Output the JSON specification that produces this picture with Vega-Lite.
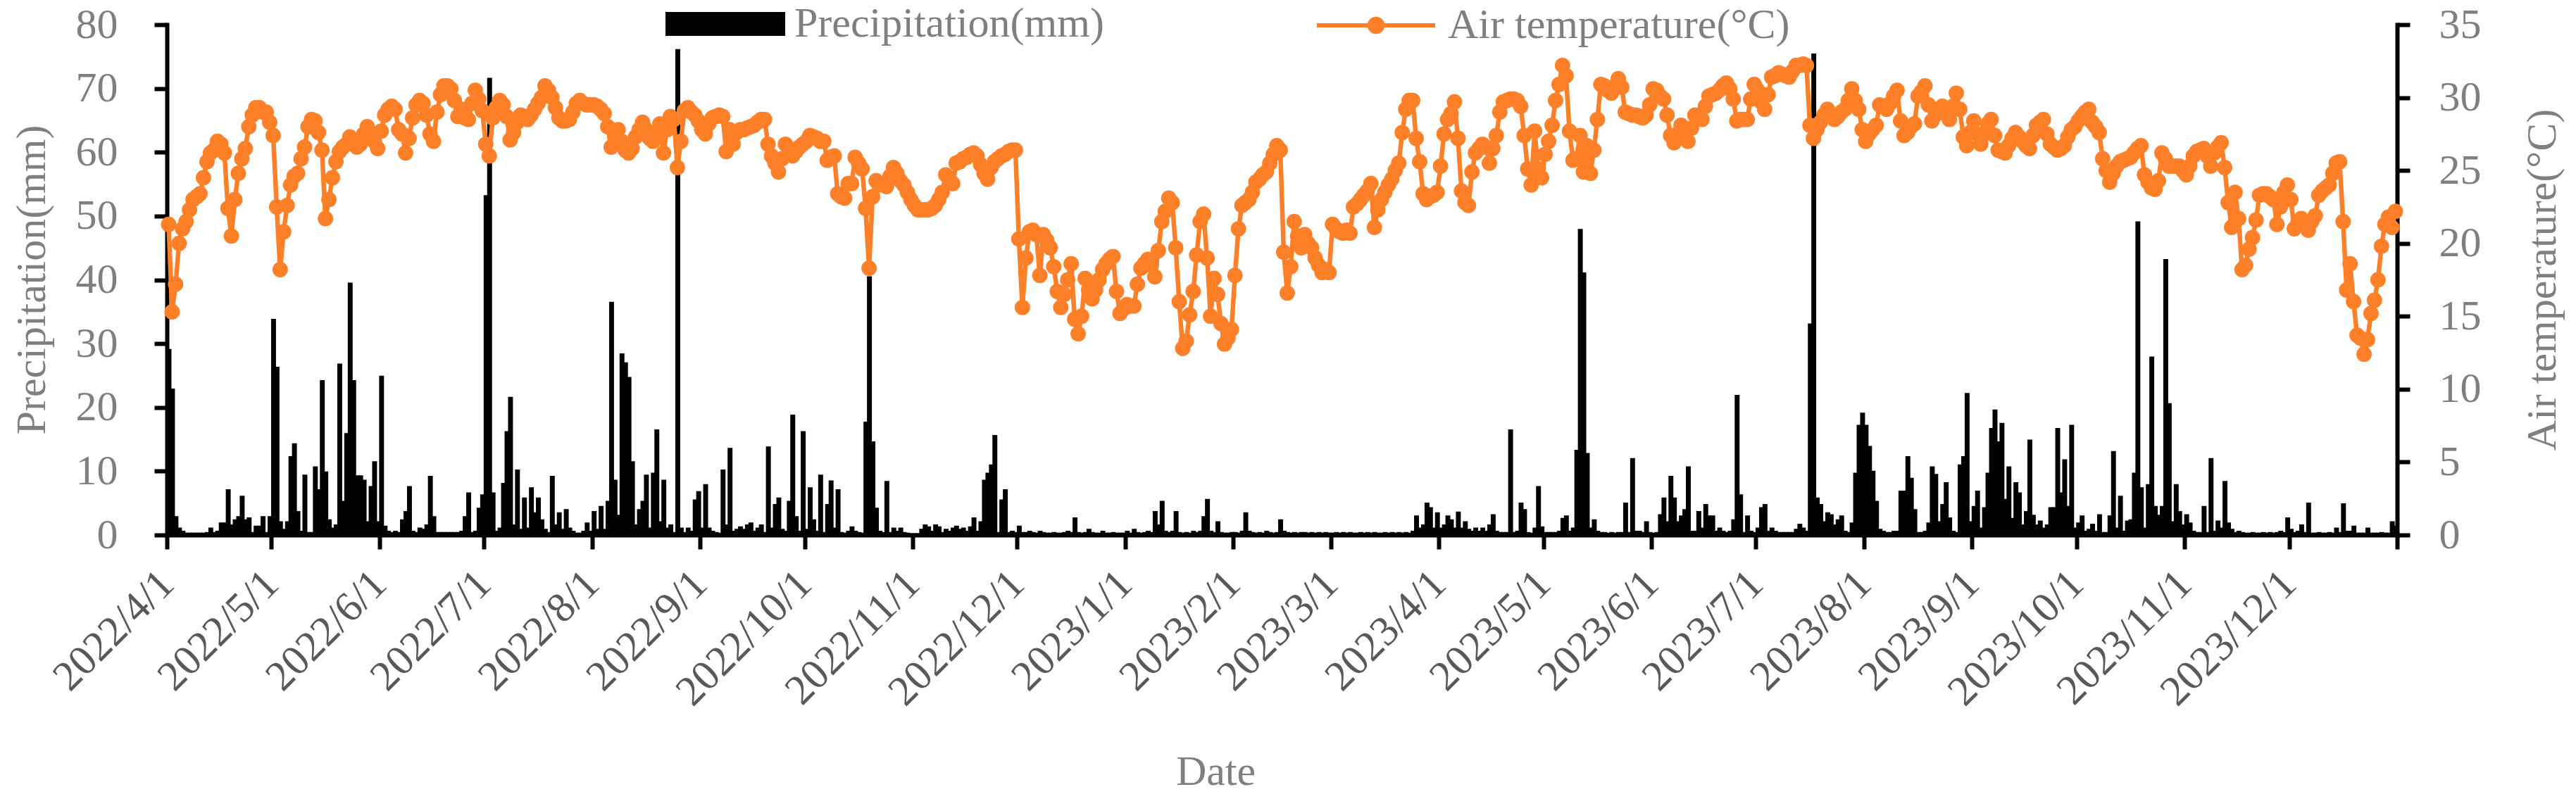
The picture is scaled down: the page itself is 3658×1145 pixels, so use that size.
{
  "$schema": "https://vega.github.io/schema/vega-lite/v6.json",
  "width": 3167,
  "height": 725,
  "autosize": "none",
  "padding": {"left": 237, "top": 35, "right": 254, "bottom": 385},
  "background": "white",
  "config": {
    "font": "Liberation Serif",
    "view": {"stroke": null},
    "axis": {"grid": false, "domainColor": "black", "tickColor": "black", "domainWidth": 6, "tickWidth": 6, "domainCap": "square", "labelFont": "Liberation Serif", "titleFont": "Liberation Serif", "labelFontSize": 60, "titleFontSize": 60, "titleFontWeight": "normal", "titleColor": "#7f7f7f", "labelColor": "#7f7f7f", "labelLimit": 0}
  },
  "data": {
    "format": {"parse": {"date": "date:'%Y-%m-%d'"}},
    "values": [
{"date":"2022-04-01","precip":29,"temp":21.3},{"date":"2022-04-02","precip":22.8,"temp":15.3},{"date":"2022-04-03","precip":2.8,"temp":17.2},{"date":"2022-04-04","precip":1.0,"temp":20.0},{"date":"2022-04-05","precip":0.5,"temp":21.0},{"date":"2022-04-06","precip":0.2,"temp":21.5},{"date":"2022-04-07","precip":0.2,"temp":22.3},{"date":"2022-04-08","precip":0.2,"temp":23.0},{"date":"2022-04-09","precip":0.2,"temp":23.2},{"date":"2022-04-10","precip":0.2,"temp":23.4},
{"date":"2022-04-11","precip":0.2,"temp":24.5},{"date":"2022-04-12","precip":0.3,"temp":25.6},{"date":"2022-04-13","precip":1.0,"temp":26.2},{"date":"2022-04-14","precip":0.3,"temp":26.4},{"date":"2022-04-15","precip":0.5,"temp":27.0},{"date":"2022-04-16","precip":1.8,"temp":26.8},{"date":"2022-04-17","precip":1.8,"temp":26.2},{"date":"2022-04-18","precip":7.0,"temp":22.4},{"date":"2022-04-19","precip":1.5,"temp":20.5},{"date":"2022-04-20","precip":2.3,"temp":23.0},
{"date":"2022-04-21","precip":2.8,"temp":24.8},{"date":"2022-04-22","precip":6.0,"temp":25.8},{"date":"2022-04-23","precip":2.3,"temp":26.5},{"date":"2022-04-24","precip":2.6,"temp":28.0},{"date":"2022-04-25","precip":0.3,"temp":28.8},{"date":"2022-04-26","precip":1.3,"temp":29.3},{"date":"2022-04-27","precip":1.3,"temp":29.3},{"date":"2022-04-28","precip":2.8,"temp":29.0},{"date":"2022-04-29","precip":0.3,"temp":29.0},{"date":"2022-04-30","precip":2.8,"temp":28.3},
{"date":"2022-05-01","precip":33.7,"temp":27.4},{"date":"2022-05-02","precip":26.2,"temp":22.5},{"date":"2022-05-03","precip":2.0,"temp":18.2},{"date":"2022-05-04","precip":0.8,"temp":20.8},{"date":"2022-05-05","precip":2.0,"temp":22.6},{"date":"2022-05-06","precip":12.2,"temp":24.0},{"date":"2022-05-07","precip":14.2,"temp":24.6},{"date":"2022-05-08","precip":3.6,"temp":24.8},{"date":"2022-05-09","precip":0.5,"temp":25.8},{"date":"2022-05-10","precip":9.3,"temp":26.6},
{"date":"2022-05-11","precip":0.3,"temp":28.0},{"date":"2022-05-12","precip":0.3,"temp":28.5},{"date":"2022-05-13","precip":10.6,"temp":28.4},{"date":"2022-05-14","precip":7.0,"temp":27.6},{"date":"2022-05-15","precip":24.1,"temp":26.4},{"date":"2022-05-16","precip":9.8,"temp":21.7},{"date":"2022-05-17","precip":2.3,"temp":23.0},{"date":"2022-05-18","precip":1.0,"temp":24.5},{"date":"2022-05-19","precip":1.5,"temp":25.6},{"date":"2022-05-20","precip":26.7,"temp":26.3},
{"date":"2022-05-21","precip":5.2,"temp":26.6},{"date":"2022-05-22","precip":15.8,"temp":26.8},{"date":"2022-05-23","precip":39.4,"temp":27.3},{"date":"2022-05-24","precip":24.1,"temp":27.0},{"date":"2022-05-25","precip":9.2,"temp":26.6},{"date":"2022-05-26","precip":9.2,"temp":26.8},{"date":"2022-05-27","precip":8.5,"temp":27.5},{"date":"2022-05-28","precip":2.0,"temp":28.0},{"date":"2022-05-29","precip":7.5,"temp":27.4},{"date":"2022-05-30","precip":11.4,"temp":27.0},
{"date":"2022-05-31","precip":2.0,"temp":26.5},
{"date":"2022-06-01","precip":24.8,"temp":27.7},{"date":"2022-06-02","precip":1.3,"temp":28.8},{"date":"2022-06-03","precip":0.5,"temp":29.2},{"date":"2022-06-04","precip":0.3,"temp":29.4},{"date":"2022-06-05","precip":0.5,"temp":29.2},{"date":"2022-06-06","precip":0.3,"temp":27.8},{"date":"2022-06-07","precip":2.3,"temp":27.5},{"date":"2022-06-08","precip":3.6,"temp":26.2},{"date":"2022-06-09","precip":7.5,"temp":27.2},{"date":"2022-06-10","precip":0.5,"temp":28.6},
{"date":"2022-06-11","precip":0.3,"temp":29.5},{"date":"2022-06-12","precip":1.0,"temp":29.8},{"date":"2022-06-13","precip":0.8,"temp":29.6},{"date":"2022-06-14","precip":1.5,"temp":28.8},{"date":"2022-06-15","precip":9.1,"temp":27.5},{"date":"2022-06-16","precip":2.8,"temp":27.0},{"date":"2022-06-17","precip":0.3,"temp":29.0},{"date":"2022-06-18","precip":0.3,"temp":30.2},{"date":"2022-06-19","precip":0.3,"temp":30.8},{"date":"2022-06-20","precip":0.3,"temp":30.8},
{"date":"2022-06-21","precip":0.3,"temp":30.6},{"date":"2022-06-22","precip":0.3,"temp":29.8},{"date":"2022-06-23","precip":0.3,"temp":28.7},{"date":"2022-06-24","precip":0.5,"temp":29.2},{"date":"2022-06-25","precip":2.8,"temp":28.6},{"date":"2022-06-26","precip":6.5,"temp":28.5},{"date":"2022-06-27","precip":0.3,"temp":29.6},{"date":"2022-06-28","precip":0.5,"temp":30.5},{"date":"2022-06-29","precip":4.1,"temp":29.9},{"date":"2022-06-30","precip":6.2,"temp":29.1},
{"date":"2022-07-01","precip":53.1,"temp":26.8},{"date":"2022-07-02","precip":71.5,"temp":26.0},{"date":"2022-07-03","precip":6.5,"temp":28.6},{"date":"2022-07-04","precip":0.5,"temp":29.3},{"date":"2022-07-05","precip":1.0,"temp":29.8},{"date":"2022-07-06","precip":8.0,"temp":29.5},{"date":"2022-07-07","precip":16.1,"temp":28.7},{"date":"2022-07-08","precip":21.5,"temp":27.1},{"date":"2022-07-09","precip":1.5,"temp":27.6},{"date":"2022-07-10","precip":10.1,"temp":28.3},
{"date":"2022-07-11","precip":0.8,"temp":28.8},{"date":"2022-07-12","precip":5.7,"temp":28.7},{"date":"2022-07-13","precip":1.0,"temp":28.5},{"date":"2022-07-14","precip":7.3,"temp":28.8},{"date":"2022-07-15","precip":3.4,"temp":29.2},{"date":"2022-07-16","precip":5.7,"temp":29.6},{"date":"2022-07-17","precip":2.3,"temp":30.0},{"date":"2022-07-18","precip":0.8,"temp":30.8},{"date":"2022-07-19","precip":0.3,"temp":30.5},{"date":"2022-07-20","precip":9.1,"temp":30.0},
{"date":"2022-07-21","precip":1.5,"temp":29.3},{"date":"2022-07-22","precip":3.4,"temp":28.6},{"date":"2022-07-23","precip":0.8,"temp":28.4},{"date":"2022-07-24","precip":3.9,"temp":28.4},{"date":"2022-07-25","precip":1.0,"temp":28.5},{"date":"2022-07-26","precip":0.5,"temp":29.0},{"date":"2022-07-27","precip":0.2,"temp":29.6},{"date":"2022-07-28","precip":0.2,"temp":29.8},{"date":"2022-07-29","precip":0.5,"temp":29.6},{"date":"2022-07-30","precip":1.8,"temp":29.5},
{"date":"2022-07-31","precip":0.5,"temp":29.5},
{"date":"2022-08-01","precip":3.6,"temp":29.5},{"date":"2022-08-02","precip":0.8,"temp":29.4},{"date":"2022-08-03","precip":4.4,"temp":29.2},{"date":"2022-08-04","precip":0.8,"temp":28.9},{"date":"2022-08-05","precip":5.2,"temp":28.0},{"date":"2022-08-06","precip":36.4,"temp":26.6},{"date":"2022-08-07","precip":8.5,"temp":27.4},{"date":"2022-08-08","precip":3.0,"temp":27.8},{"date":"2022-08-09","precip":28.3,"temp":27.0},{"date":"2022-08-10","precip":26.9,"temp":26.4},
{"date":"2022-08-11","precip":24.6,"temp":26.2},{"date":"2022-08-12","precip":11.4,"temp":26.5},{"date":"2022-08-13","precip":1.5,"temp":27.3},{"date":"2022-08-14","precip":3.9,"temp":27.8},{"date":"2022-08-15","precip":5.2,"temp":28.3},{"date":"2022-08-16","precip":9.3,"temp":27.8},{"date":"2022-08-17","precip":1.0,"temp":27.2},{"date":"2022-08-18","precip":9.6,"temp":27.0},{"date":"2022-08-19","precip":16.4,"temp":27.5},{"date":"2022-08-20","precip":2.0,"temp":28.2},
{"date":"2022-08-21","precip":8.5,"temp":26.2},{"date":"2022-08-22","precip":1.0,"temp":27.8},{"date":"2022-08-23","precip":1.5,"temp":28.7},{"date":"2022-08-24","precip":0.3,"temp":28.5},{"date":"2022-08-25","precip":76.0,"temp":25.2},{"date":"2022-08-26","precip":1.0,"temp":27.0},{"date":"2022-08-27","precip":0.3,"temp":29.1},{"date":"2022-08-28","precip":1.0,"temp":29.3},{"date":"2022-08-29","precip":0.5,"temp":29.0},{"date":"2022-08-30","precip":5.4,"temp":28.8},
{"date":"2022-08-31","precip":6.7,"temp":28.4},
{"date":"2022-09-01","precip":1.0,"temp":27.8},{"date":"2022-09-02","precip":7.8,"temp":27.5},{"date":"2022-09-03","precip":1.0,"temp":28.2},{"date":"2022-09-04","precip":0.5,"temp":28.6},{"date":"2022-09-05","precip":0.3,"temp":28.7},{"date":"2022-09-06","precip":0.2,"temp":28.8},{"date":"2022-09-07","precip":10.1,"temp":28.7},{"date":"2022-09-08","precip":1.5,"temp":26.3},{"date":"2022-09-09","precip":13.5,"temp":27.8},{"date":"2022-09-10","precip":0.5,"temp":26.8},
{"date":"2022-09-11","precip":0.8,"temp":27.6},{"date":"2022-09-12","precip":1.2,"temp":27.8},{"date":"2022-09-13","precip":0.8,"temp":27.8},{"date":"2022-09-14","precip":1.5,"temp":27.9},{"date":"2022-09-15","precip":1.8,"temp":28.0},{"date":"2022-09-16","precip":0.5,"temp":28.1},{"date":"2022-09-17","precip":1.0,"temp":28.3},{"date":"2022-09-18","precip":1.5,"temp":28.5},{"date":"2022-09-19","precip":0.3,"temp":28.5},{"date":"2022-09-20","precip":13.7,"temp":26.8},
{"date":"2022-09-21","precip":1.0,"temp":26.0},{"date":"2022-09-22","precip":4.7,"temp":25.5},{"date":"2022-09-23","precip":5.7,"temp":24.9},{"date":"2022-09-24","precip":0.8,"temp":25.8},{"date":"2022-09-25","precip":0.5,"temp":26.8},{"date":"2022-09-26","precip":5.2,"temp":26.5},{"date":"2022-09-27","precip":18.7,"temp":26.0},{"date":"2022-09-28","precip":2.8,"temp":26.3},{"date":"2022-09-29","precip":0.5,"temp":26.6},{"date":"2022-09-30","precip":16.1,"temp":26.8},
{"date":"2022-10-01","precip":0.8,"temp":27.0},{"date":"2022-10-02","precip":7.3,"temp":27.4},{"date":"2022-10-03","precip":2.3,"temp":27.3},{"date":"2022-10-04","precip":0.5,"temp":27.2},{"date":"2022-10-05","precip":9.3,"temp":27.0},{"date":"2022-10-06","precip":0.3,"temp":27.0},{"date":"2022-10-07","precip":4.7,"temp":25.7},{"date":"2022-10-08","precip":8.4,"temp":25.9},{"date":"2022-10-09","precip":1.0,"temp":26.0},{"date":"2022-10-10","precip":7.0,"temp":23.4},
{"date":"2022-10-11","precip":0.3,"temp":23.2},{"date":"2022-10-12","precip":0.2,"temp":23.1},{"date":"2022-10-13","precip":0.5,"temp":24.1},{"date":"2022-10-14","precip":1.2,"temp":24.1},{"date":"2022-10-15","precip":0.5,"temp":25.9},{"date":"2022-10-16","precip":0.3,"temp":25.5},{"date":"2022-10-17","precip":0.2,"temp":25.1},{"date":"2022-10-18","precip":17.6,"temp":22.4},{"date":"2022-10-19","precip":40.4,"temp":18.3},{"date":"2022-10-20","precip":14.5,"temp":23.2},
{"date":"2022-10-21","precip":4.1,"temp":24.3},{"date":"2022-10-22","precip":0.5,"temp":24.0},{"date":"2022-10-23","precip":0.3,"temp":24.1},{"date":"2022-10-24","precip":8.3,"temp":23.9},{"date":"2022-10-25","precip":0.3,"temp":24.6},{"date":"2022-10-26","precip":1.0,"temp":25.2},{"date":"2022-10-27","precip":0.5,"temp":24.8},{"date":"2022-10-28","precip":1.0,"temp":24.3},{"date":"2022-10-29","precip":0.3,"temp":24.0},{"date":"2022-10-30","precip":0.2,"temp":23.5},
{"date":"2022-10-31","precip":0.1,"temp":23.0},
{"date":"2022-11-01","precip":0.1,"temp":22.6},{"date":"2022-11-02","precip":0.1,"temp":22.3},{"date":"2022-11-03","precip":0.8,"temp":22.3},{"date":"2022-11-04","precip":1.5,"temp":22.3},{"date":"2022-11-05","precip":1.2,"temp":22.3},{"date":"2022-11-06","precip":0.5,"temp":22.4},{"date":"2022-11-07","precip":1.5,"temp":22.6},{"date":"2022-11-08","precip":1.2,"temp":23.0},{"date":"2022-11-09","precip":0.3,"temp":23.5},{"date":"2022-11-10","precip":0.8,"temp":24.7},
{"date":"2022-11-11","precip":0.5,"temp":24.4},{"date":"2022-11-12","precip":1.0,"temp":24.1},{"date":"2022-11-13","precip":1.3,"temp":25.5},{"date":"2022-11-14","precip":0.8,"temp":25.6},{"date":"2022-11-15","precip":1.0,"temp":25.8},{"date":"2022-11-16","precip":0.5,"temp":25.9},{"date":"2022-11-17","precip":1.2,"temp":26.1},{"date":"2022-11-18","precip":2.6,"temp":26.2},{"date":"2022-11-19","precip":0.5,"temp":26.0},{"date":"2022-11-20","precip":2.0,"temp":25.4},
{"date":"2022-11-21","precip":8.5,"temp":24.8},{"date":"2022-11-22","precip":9.6,"temp":24.4},{"date":"2022-11-23","precip":10.9,"temp":25.2},{"date":"2022-11-24","precip":15.5,"temp":25.6},{"date":"2022-11-25","precip":0.3,"temp":25.8},{"date":"2022-11-26","precip":5.4,"temp":26.0},{"date":"2022-11-27","precip":7.0,"temp":26.1},{"date":"2022-11-28","precip":0.3,"temp":26.3},{"date":"2022-11-29","precip":0.5,"temp":26.4},{"date":"2022-11-30","precip":0.3,"temp":26.4},
{"date":"2022-12-01","precip":1.3,"temp":20.3},{"date":"2022-12-02","precip":0.3,"temp":15.6},{"date":"2022-12-03","precip":0.3,"temp":19.0},{"date":"2022-12-04","precip":0.5,"temp":20.8},{"date":"2022-12-05","precip":0.3,"temp":20.9},{"date":"2022-12-06","precip":0.2,"temp":20.6},{"date":"2022-12-07","precip":0.5,"temp":17.8},{"date":"2022-12-08","precip":0.3,"temp":20.6},{"date":"2022-12-09","precip":0.2,"temp":20.2},{"date":"2022-12-10","precip":0.2,"temp":19.7},
{"date":"2022-12-11","precip":0.3,"temp":18.4},{"date":"2022-12-12","precip":0.2,"temp":16.7},{"date":"2022-12-13","precip":0.2,"temp":15.6},{"date":"2022-12-14","precip":0.3,"temp":16.5},{"date":"2022-12-15","precip":0.5,"temp":17.5},{"date":"2022-12-16","precip":0.3,"temp":18.6},{"date":"2022-12-17","precip":2.6,"temp":14.8},{"date":"2022-12-18","precip":0.3,"temp":13.8},{"date":"2022-12-19","precip":0.2,"temp":15.0},{"date":"2022-12-20","precip":0.3,"temp":17.6},
{"date":"2022-12-21","precip":0.8,"temp":16.8},{"date":"2022-12-22","precip":0.3,"temp":16.2},{"date":"2022-12-23","precip":0.2,"temp":16.8},{"date":"2022-12-24","precip":0.2,"temp":17.5},{"date":"2022-12-25","precip":0.5,"temp":18.2},{"date":"2022-12-26","precip":0.2,"temp":18.6},{"date":"2022-12-27","precip":0.2,"temp":18.9},{"date":"2022-12-28","precip":0.3,"temp":19.1},{"date":"2022-12-29","precip":0.2,"temp":16.7},{"date":"2022-12-30","precip":0.2,"temp":15.2},
{"date":"2022-12-31","precip":0.2,"temp":15.5},
{"date":"2023-01-01","precip":0.5,"temp":15.8},{"date":"2023-01-02","precip":0.2,"temp":15.7},{"date":"2023-01-03","precip":0.8,"temp":15.7},{"date":"2023-01-04","precip":0.3,"temp":17.2},{"date":"2023-01-05","precip":0.2,"temp":18.3},{"date":"2023-01-06","precip":0.3,"temp":18.6},{"date":"2023-01-07","precip":0.5,"temp":18.9},{"date":"2023-01-08","precip":0.3,"temp":18.5},{"date":"2023-01-09","precip":3.6,"temp":17.7},{"date":"2023-01-10","precip":1.5,"temp":19.5},
{"date":"2023-01-11","precip":5.2,"temp":21.5},{"date":"2023-01-12","precip":0.5,"temp":22.2},{"date":"2023-01-13","precip":0.3,"temp":23.1},{"date":"2023-01-14","precip":0.5,"temp":22.8},{"date":"2023-01-15","precip":3.6,"temp":19.7},{"date":"2023-01-16","precip":0.3,"temp":16.0},{"date":"2023-01-17","precip":0.2,"temp":12.8},{"date":"2023-01-18","precip":0.3,"temp":13.3},{"date":"2023-01-19","precip":0.2,"temp":15.1},{"date":"2023-01-20","precip":0.5,"temp":16.7},
{"date":"2023-01-21","precip":0.3,"temp":19.2},{"date":"2023-01-22","precip":0.5,"temp":21.5},{"date":"2023-01-23","precip":2.8,"temp":22.0},{"date":"2023-01-24","precip":5.5,"temp":19.0},{"date":"2023-01-25","precip":0.5,"temp":15.0},{"date":"2023-01-26","precip":0.3,"temp":17.6},{"date":"2023-01-27","precip":2.0,"temp":16.5},{"date":"2023-01-28","precip":0.3,"temp":14.5},{"date":"2023-01-29","precip":0.2,"temp":13.1},{"date":"2023-01-30","precip":0.2,"temp":13.5},
{"date":"2023-01-31","precip":0.3,"temp":14.1},
{"date":"2023-02-01","precip":0.3,"temp":17.8},{"date":"2023-02-02","precip":0.2,"temp":21.0},{"date":"2023-02-03","precip":0.5,"temp":22.6},{"date":"2023-02-04","precip":3.4,"temp":22.8},{"date":"2023-02-05","precip":0.5,"temp":23.0},{"date":"2023-02-06","precip":0.3,"temp":23.5},{"date":"2023-02-07","precip":0.2,"temp":24.2},{"date":"2023-02-08","precip":0.3,"temp":24.4},{"date":"2023-02-09","precip":0.2,"temp":24.7},{"date":"2023-02-10","precip":0.5,"temp":24.9},
{"date":"2023-02-11","precip":0.3,"temp":25.5},{"date":"2023-02-12","precip":0.2,"temp":26.1},{"date":"2023-02-13","precip":0.3,"temp":26.7},{"date":"2023-02-14","precip":2.3,"temp":26.4},{"date":"2023-02-15","precip":0.5,"temp":19.4},{"date":"2023-02-16","precip":0.3,"temp":16.6},{"date":"2023-02-17","precip":0.2,"temp":18.4},{"date":"2023-02-18","precip":0.3,"temp":21.5},{"date":"2023-02-19","precip":0.2,"temp":20.5},{"date":"2023-02-20","precip":0.3,"temp":19.7},
{"date":"2023-02-21","precip":0.3,"temp":20.6},{"date":"2023-02-22","precip":0.2,"temp":20.0},{"date":"2023-02-23","precip":0.3,"temp":19.7},{"date":"2023-02-24","precip":0.2,"temp":19.0},{"date":"2023-02-25","precip":0.3,"temp":18.5},{"date":"2023-02-26","precip":0.2,"temp":18.0},{"date":"2023-02-27","precip":0.3,"temp":18.2},{"date":"2023-02-28","precip":0.2,"temp":18.0},
{"date":"2023-03-01","precip":0.2,"temp":21.3},{"date":"2023-03-02","precip":0.3,"temp":21.0},{"date":"2023-03-03","precip":0.2,"temp":20.8},{"date":"2023-03-04","precip":0.3,"temp":20.7},{"date":"2023-03-05","precip":0.2,"temp":20.9},{"date":"2023-03-06","precip":0.3,"temp":20.7},{"date":"2023-03-07","precip":0.2,"temp":22.5},{"date":"2023-03-08","precip":0.2,"temp":22.7},{"date":"2023-03-09","precip":0.3,"temp":23.0},{"date":"2023-03-10","precip":0.2,"temp":23.3},
{"date":"2023-03-11","precip":0.3,"temp":23.6},{"date":"2023-03-12","precip":0.2,"temp":24.1},{"date":"2023-03-13","precip":0.3,"temp":21.1},{"date":"2023-03-14","precip":0.2,"temp":22.3},{"date":"2023-03-15","precip":0.2,"temp":23.0},{"date":"2023-03-16","precip":0.3,"temp":23.5},{"date":"2023-03-17","precip":0.2,"temp":24.0},{"date":"2023-03-18","precip":0.3,"temp":24.4},{"date":"2023-03-19","precip":0.2,"temp":25.0},{"date":"2023-03-20","precip":0.3,"temp":25.5},
{"date":"2023-03-21","precip":0.2,"temp":27.6},{"date":"2023-03-22","precip":0.3,"temp":29.2},{"date":"2023-03-23","precip":0.2,"temp":29.8},{"date":"2023-03-24","precip":0.5,"temp":29.8},{"date":"2023-03-25","precip":2.9,"temp":27.2},{"date":"2023-03-26","precip":1.0,"temp":25.6},{"date":"2023-03-27","precip":1.5,"temp":23.4},{"date":"2023-03-28","precip":4.9,"temp":23.0},{"date":"2023-03-29","precip":4.2,"temp":23.2},{"date":"2023-03-30","precip":1.0,"temp":23.3},
{"date":"2023-03-31","precip":3.4,"temp":23.5},
{"date":"2023-04-01","precip":1.0,"temp":25.3},{"date":"2023-04-02","precip":1.5,"temp":27.5},{"date":"2023-04-03","precip":2.9,"temp":28.5},{"date":"2023-04-04","precip":2.3,"temp":28.9},{"date":"2023-04-05","precip":1.0,"temp":29.7},{"date":"2023-04-06","precip":3.5,"temp":27.2},{"date":"2023-04-07","precip":1.0,"temp":23.6},{"date":"2023-04-08","precip":2.0,"temp":22.8},{"date":"2023-04-09","precip":0.8,"temp":22.6},{"date":"2023-04-10","precip":0.5,"temp":24.9},
{"date":"2023-04-11","precip":1.0,"temp":26.2},{"date":"2023-04-12","precip":0.5,"temp":26.5},{"date":"2023-04-13","precip":1.0,"temp":26.8},{"date":"2023-04-14","precip":0.5,"temp":26.6},{"date":"2023-04-15","precip":1.5,"temp":25.5},{"date":"2023-04-16","precip":3.1,"temp":26.5},{"date":"2023-04-17","precip":0.5,"temp":27.4},{"date":"2023-04-18","precip":0.3,"temp":29.0},{"date":"2023-04-19","precip":0.3,"temp":29.7},{"date":"2023-04-20","precip":0.3,"temp":29.8},
{"date":"2023-04-21","precip":16.4,"temp":29.9},{"date":"2023-04-22","precip":0.3,"temp":29.9},{"date":"2023-04-23","precip":0.5,"temp":29.8},{"date":"2023-04-24","precip":4.9,"temp":29.4},{"date":"2023-04-25","precip":3.9,"temp":27.4},{"date":"2023-04-26","precip":0.3,"temp":25.1},{"date":"2023-04-27","precip":0.2,"temp":24.0},{"date":"2023-04-28","precip":1.0,"temp":27.7},{"date":"2023-04-29","precip":7.5,"temp":25.1},{"date":"2023-04-30","precip":1.2,"temp":24.5},
{"date":"2023-05-01","precip":0.3,"temp":26.1},{"date":"2023-05-02","precip":0.3,"temp":27.0},{"date":"2023-05-03","precip":0.3,"temp":28.1},{"date":"2023-05-04","precip":0.3,"temp":29.8},{"date":"2023-05-05","precip":0.5,"temp":30.9},{"date":"2023-05-06","precip":2.5,"temp":32.2},{"date":"2023-05-07","precip":2.9,"temp":31.5},{"date":"2023-05-08","precip":0.5,"temp":27.7},{"date":"2023-05-09","precip":1.0,"temp":25.7},{"date":"2023-05-10","precip":13.2,"temp":25.8},
{"date":"2023-05-11","precip":47.8,"temp":27.4},{"date":"2023-05-12","precip":41.0,"temp":24.9},{"date":"2023-05-13","precip":12.7,"temp":26.7},{"date":"2023-05-14","precip":1.0,"temp":24.8},{"date":"2023-05-15","precip":2.3,"temp":26.4},{"date":"2023-05-16","precip":0.5,"temp":28.5},{"date":"2023-05-17","precip":0.3,"temp":30.9},{"date":"2023-05-18","precip":0.3,"temp":30.8},{"date":"2023-05-19","precip":0.2,"temp":30.5},{"date":"2023-05-20","precip":0.3,"temp":30.3},
{"date":"2023-05-21","precip":0.2,"temp":30.8},{"date":"2023-05-22","precip":0.3,"temp":31.3},{"date":"2023-05-23","precip":0.3,"temp":30.7},{"date":"2023-05-24","precip":4.9,"temp":29.0},{"date":"2023-05-25","precip":0.3,"temp":28.9},{"date":"2023-05-26","precip":11.9,"temp":28.8},{"date":"2023-05-27","precip":0.5,"temp":28.8},{"date":"2023-05-28","precip":0.5,"temp":28.7},{"date":"2023-05-29","precip":0.3,"temp":28.6},{"date":"2023-05-30","precip":2.0,"temp":28.8},
{"date":"2023-05-31","precip":0.3,"temp":29.5},
{"date":"2023-06-01","precip":0.2,"temp":30.6},{"date":"2023-06-02","precip":0.3,"temp":30.5},{"date":"2023-06-03","precip":3.1,"temp":30.1},{"date":"2023-06-04","precip":5.7,"temp":29.9},{"date":"2023-06-05","precip":2.0,"temp":28.8},{"date":"2023-06-06","precip":9.1,"temp":27.4},{"date":"2023-06-07","precip":5.7,"temp":26.9},{"date":"2023-06-08","precip":2.0,"temp":27.5},{"date":"2023-06-09","precip":2.9,"temp":28.1},{"date":"2023-06-10","precip":3.9,"temp":27.6},
{"date":"2023-06-11","precip":10.6,"temp":27.0},{"date":"2023-06-12","precip":0.5,"temp":27.9},{"date":"2023-06-13","precip":0.5,"temp":28.8},{"date":"2023-06-14","precip":3.6,"temp":28.6},{"date":"2023-06-15","precip":1.0,"temp":28.5},{"date":"2023-06-16","precip":4.7,"temp":29.4},{"date":"2023-06-17","precip":2.9,"temp":30.1},{"date":"2023-06-18","precip":2.9,"temp":30.2},{"date":"2023-06-19","precip":0.5,"temp":30.3},{"date":"2023-06-20","precip":1.0,"temp":30.5},
{"date":"2023-06-21","precip":0.5,"temp":30.8},{"date":"2023-06-22","precip":0.3,"temp":31.0},{"date":"2023-06-23","precip":0.5,"temp":30.6},{"date":"2023-06-24","precip":2.3,"temp":29.9},{"date":"2023-06-25","precip":21.8,"temp":28.4},{"date":"2023-06-26","precip":6.2,"temp":28.5},{"date":"2023-06-27","precip":0.3,"temp":28.5},{"date":"2023-06-28","precip":2.9,"temp":28.5},{"date":"2023-06-29","precip":0.5,"temp":29.9},{"date":"2023-06-30","precip":0.3,"temp":30.9},
{"date":"2023-07-01","precip":1.0,"temp":30.5},{"date":"2023-07-02","precip":4.2,"temp":29.7},{"date":"2023-07-03","precip":4.7,"temp":29.2},{"date":"2023-07-04","precip":0.5,"temp":30.2},{"date":"2023-07-05","precip":1.0,"temp":31.4},{"date":"2023-07-06","precip":0.5,"temp":31.5},{"date":"2023-07-07","precip":0.3,"temp":31.7},{"date":"2023-07-08","precip":0.3,"temp":31.6},{"date":"2023-07-09","precip":0.3,"temp":31.5},{"date":"2023-07-10","precip":0.3,"temp":31.4},
{"date":"2023-07-11","precip":0.3,"temp":31.8},{"date":"2023-07-12","precip":0.8,"temp":32.2},{"date":"2023-07-13","precip":1.6,"temp":32.2},{"date":"2023-07-14","precip":1.0,"temp":32.3},{"date":"2023-07-15","precip":0.5,"temp":32.2},{"date":"2023-07-16","precip":33.0,"temp":28.1},{"date":"2023-07-17","precip":75.3,"temp":27.2},{"date":"2023-07-18","precip":5.7,"temp":27.8},{"date":"2023-07-19","precip":4.7,"temp":28.3},{"date":"2023-07-20","precip":2.0,"temp":28.8},
{"date":"2023-07-21","precip":3.4,"temp":29.2},{"date":"2023-07-22","precip":3.1,"temp":28.8},{"date":"2023-07-23","precip":1.5,"temp":28.5},{"date":"2023-07-24","precip":2.3,"temp":28.7},{"date":"2023-07-25","precip":2.9,"temp":29.0},{"date":"2023-07-26","precip":0.5,"temp":29.2},{"date":"2023-07-27","precip":0.3,"temp":29.8},{"date":"2023-07-28","precip":1.8,"temp":30.6},{"date":"2023-07-29","precip":9.6,"temp":29.8},{"date":"2023-07-30","precip":17.1,"temp":29.2},
{"date":"2023-07-31","precip":19.0,"temp":27.8},
{"date":"2023-08-01","precip":17.1,"temp":27.0},{"date":"2023-08-02","precip":13.8,"temp":27.5},{"date":"2023-08-03","precip":9.9,"temp":27.8},{"date":"2023-08-04","precip":5.2,"temp":28.1},{"date":"2023-08-05","precip":0.8,"temp":29.5},{"date":"2023-08-06","precip":0.5,"temp":29.4},{"date":"2023-08-07","precip":0.3,"temp":29.2},{"date":"2023-08-08","precip":0.3,"temp":29.6},{"date":"2023-08-09","precip":0.5,"temp":30.1},{"date":"2023-08-10","precip":0.5,"temp":30.5},
{"date":"2023-08-11","precip":6.8,"temp":28.4},{"date":"2023-08-12","precip":6.8,"temp":27.4},{"date":"2023-08-13","precip":12.2,"temp":27.6},{"date":"2023-08-14","precip":8.8,"temp":28.0},{"date":"2023-08-15","precip":3.9,"temp":28.2},{"date":"2023-08-16","precip":0.3,"temp":30.1},{"date":"2023-08-17","precip":0.3,"temp":30.4},{"date":"2023-08-18","precip":0.5,"temp":30.8},{"date":"2023-08-19","precip":1.8,"temp":29.5},{"date":"2023-08-20","precip":10.6,"temp":28.4},
{"date":"2023-08-21","precip":9.4,"temp":28.8},{"date":"2023-08-22","precip":2.0,"temp":29.2},{"date":"2023-08-23","precip":4.7,"temp":29.4},{"date":"2023-08-24","precip":8.1,"temp":28.9},{"date":"2023-08-25","precip":2.6,"temp":28.5},{"date":"2023-08-26","precip":0.5,"temp":29.4},{"date":"2023-08-27","precip":0.3,"temp":30.3},{"date":"2023-08-28","precip":10.9,"temp":29.2},{"date":"2023-08-29","precip":12.2,"temp":27.3},{"date":"2023-08-30","precip":22.1,"temp":26.7},
{"date":"2023-08-31","precip":2.0,"temp":27.6},
{"date":"2023-09-01","precip":4.4,"temp":28.4},{"date":"2023-09-02","precip":6.8,"temp":27.5},{"date":"2023-09-03","precip":1.0,"temp":26.8},{"date":"2023-09-04","precip":4.2,"temp":27.5},{"date":"2023-09-05","precip":9.6,"temp":28.2},{"date":"2023-09-06","precip":16.6,"temp":28.5},{"date":"2023-09-07","precip":19.5,"temp":27.4},{"date":"2023-09-08","precip":14.5,"temp":26.4},{"date":"2023-09-09","precip":17.4,"temp":26.3},{"date":"2023-09-10","precip":5.5,"temp":26.2},
{"date":"2023-09-11","precip":10.6,"temp":26.7},{"date":"2023-09-12","precip":2.5,"temp":27.2},{"date":"2023-09-13","precip":8.1,"temp":27.6},{"date":"2023-09-14","precip":6.5,"temp":27.3},{"date":"2023-09-15","precip":1.5,"temp":27.0},{"date":"2023-09-16","precip":3.6,"temp":26.7},{"date":"2023-09-17","precip":14.8,"temp":26.5},{"date":"2023-09-18","precip":3.0,"temp":27.4},{"date":"2023-09-19","precip":1.5,"temp":28.1},{"date":"2023-09-20","precip":2.1,"temp":28.3},
{"date":"2023-09-21","precip":1.0,"temp":28.5},{"date":"2023-09-22","precip":1.5,"temp":27.5},{"date":"2023-09-23","precip":4.2,"temp":26.8},{"date":"2023-09-24","precip":4.2,"temp":26.6},{"date":"2023-09-25","precip":16.6,"temp":26.4},{"date":"2023-09-26","precip":6.5,"temp":26.5},{"date":"2023-09-27","precip":11.7,"temp":26.7},{"date":"2023-09-28","precip":4.4,"temp":27.3},{"date":"2023-09-29","precip":17.1,"temp":27.8},{"date":"2023-09-30","precip":1.0,"temp":28.0},
{"date":"2023-10-01","precip":1.8,"temp":28.4},{"date":"2023-10-02","precip":2.9,"temp":28.7},{"date":"2023-10-03","precip":0.5,"temp":29.0},{"date":"2023-10-04","precip":0.8,"temp":29.2},{"date":"2023-10-05","precip":1.6,"temp":28.3},{"date":"2023-10-06","precip":0.5,"temp":28.0},{"date":"2023-10-07","precip":3.1,"temp":27.6},{"date":"2023-10-08","precip":0.3,"temp":25.8},{"date":"2023-10-09","precip":0.3,"temp":25.0},{"date":"2023-10-10","precip":2.9,"temp":24.2},
{"date":"2023-10-11","precip":13.0,"temp":24.8},{"date":"2023-10-12","precip":1.0,"temp":25.3},{"date":"2023-10-13","precip":6.0,"temp":25.6},{"date":"2023-10-14","precip":0.5,"temp":25.7},{"date":"2023-10-15","precip":2.1,"temp":25.8},{"date":"2023-10-16","precip":2.3,"temp":25.9},{"date":"2023-10-17","precip":9.6,"temp":26.2},{"date":"2023-10-18","precip":49.0,"temp":26.5},{"date":"2023-10-19","precip":7.3,"temp":26.7},{"date":"2023-10-20","precip":1.0,"temp":24.7},
{"date":"2023-10-21","precip":7.8,"temp":24.2},{"date":"2023-10-22","precip":27.8,"temp":23.8},{"date":"2023-10-23","precip":4.4,"temp":23.7},{"date":"2023-10-24","precip":3.0,"temp":24.3},{"date":"2023-10-25","precip":4.4,"temp":26.2},{"date":"2023-10-26","precip":43.1,"temp":25.8},{"date":"2023-10-27","precip":20.5,"temp":25.3},{"date":"2023-10-28","precip":2.0,"temp":25.3},{"date":"2023-10-29","precip":7.8,"temp":25.3},{"date":"2023-10-30","precip":3.6,"temp":25.3},
{"date":"2023-10-31","precip":1.5,"temp":25.0},
{"date":"2023-11-01","precip":3.1,"temp":24.7},{"date":"2023-11-02","precip":1.8,"temp":25.3},{"date":"2023-11-03","precip":0.5,"temp":26.0},{"date":"2023-11-04","precip":0.3,"temp":26.3},{"date":"2023-11-05","precip":0.3,"temp":26.4},{"date":"2023-11-06","precip":4.4,"temp":26.5},{"date":"2023-11-07","precip":0.3,"temp":26.0},{"date":"2023-11-08","precip":11.9,"temp":25.3},{"date":"2023-11-09","precip":0.5,"temp":26.2},{"date":"2023-11-10","precip":2.1,"temp":26.6},
{"date":"2023-11-11","precip":1.0,"temp":26.9},{"date":"2023-11-12","precip":8.3,"temp":25.2},{"date":"2023-11-13","precip":1.8,"temp":22.8},{"date":"2023-11-14","precip":0.8,"temp":21.1},{"date":"2023-11-15","precip":0.3,"temp":23.5},{"date":"2023-11-16","precip":0.5,"temp":21.7},{"date":"2023-11-17","precip":0.3,"temp":18.2},{"date":"2023-11-18","precip":0.2,"temp":18.5},{"date":"2023-11-19","precip":0.2,"temp":19.6},{"date":"2023-11-20","precip":0.3,"temp":20.4},
{"date":"2023-11-21","precip":0.2,"temp":21.6},{"date":"2023-11-22","precip":0.2,"temp":23.3},{"date":"2023-11-23","precip":0.3,"temp":23.4},{"date":"2023-11-24","precip":0.2,"temp":23.4},{"date":"2023-11-25","precip":0.3,"temp":23.2},{"date":"2023-11-26","precip":0.2,"temp":23.0},{"date":"2023-11-27","precip":0.3,"temp":21.3},{"date":"2023-11-28","precip":0.5,"temp":22.5},{"date":"2023-11-29","precip":0.3,"temp":23.5},{"date":"2023-11-30","precip":2.6,"temp":24.0},
{"date":"2023-12-01","precip":0.8,"temp":23.0},{"date":"2023-12-02","precip":0.3,"temp":21.0},{"date":"2023-12-03","precip":0.5,"temp":21.4},{"date":"2023-12-04","precip":1.5,"temp":21.7},{"date":"2023-12-05","precip":0.3,"temp":21.4},{"date":"2023-12-06","precip":4.9,"temp":20.9},{"date":"2023-12-07","precip":0.2,"temp":21.5},{"date":"2023-12-08","precip":0.2,"temp":21.9},{"date":"2023-12-09","precip":0.3,"temp":23.3},{"date":"2023-12-10","precip":0.2,"temp":23.6},
{"date":"2023-12-11","precip":0.2,"temp":23.8},{"date":"2023-12-12","precip":0.3,"temp":24.0},{"date":"2023-12-13","precip":0.2,"temp":24.8},{"date":"2023-12-14","precip":1.0,"temp":25.5},{"date":"2023-12-15","precip":0.3,"temp":25.6},{"date":"2023-12-16","precip":4.8,"temp":21.5},{"date":"2023-12-17","precip":0.5,"temp":16.8},{"date":"2023-12-18","precip":0.5,"temp":18.6},{"date":"2023-12-19","precip":1.3,"temp":16.0},{"date":"2023-12-20","precip":0.2,"temp":13.7},
{"date":"2023-12-21","precip":0.2,"temp":13.5},{"date":"2023-12-22","precip":0.2,"temp":12.4},{"date":"2023-12-23","precip":1.0,"temp":13.4},{"date":"2023-12-24","precip":0.2,"temp":15.2},{"date":"2023-12-25","precip":0.2,"temp":16.1},{"date":"2023-12-26","precip":0.2,"temp":17.5},{"date":"2023-12-27","precip":0.3,"temp":19.8},{"date":"2023-12-28","precip":0.2,"temp":21.3},{"date":"2023-12-29","precip":0.2,"temp":21.8},{"date":"2023-12-30","precip":2.0,"temp":21.1},
{"date":"2023-12-31","precip":1.3,"temp":22.2}
    ]
  },
  "layer": [
    {
      "mark": {"type": "bar", "stroke": "black", "strokeWidth": 3},
      "encoding": {
        "x": {
          "field": "date", "type": "temporal", "timeUnit": "yearmonthdate",
          "scale": {"domain": [{"year": 2022, "month": 4, "date": 1}, {"year": 2024, "month": 1, "date": 1}]},
          "axis": {
            "title": "Date",
            "tickCount": {"interval": "month", "step": 1},
            "labelExpr": "year(datum.value) >= 2024 ? '' : timeFormat(datum.value, '%Y/%-m/%-d')",
            "labelAngle": -45, "labelAlign": "right", "labelBaseline": "middle",
            "labelPadding": 40, "labelColor": "#595959", "labelOverlap": false, "labelFlush": false,
            "tickSize": 20,
            "titleX": 1489, "titleY": 336, "titleBaseline": "middle", "titleAlign": "center"
          }
        },
        "y": {
          "field": "precip", "type": "quantitative",
          "scale": {"domain": [0, 80]},
          "axis": {
            "title": "Precipitation(mm)",
            "values": [0, 10, 20, 30, 40, 50, 60, 70, 80],
            "tickSize": 18, "labelPadding": 52,
            "titleAngle": -90, "titleX": -192, "titleY": 362, "titleBaseline": "middle", "titleAlign": "center"
          }
        },
        "fill": {
          "datum": "Precipitation(mm)",
          "scale": {"range": ["#000000"]},
          "legend": {
            "orient": "none", "legendX": 708, "legendY": -86, "title": null, "padding": 0,
            "symbolType": "M-1,-0.2H1V0.2H-1Z", "symbolSize": 28900, "symbolStrokeWidth": 0,
            "labelFont": "Liberation Serif", "labelFontSize": 60, "labelColor": "#7f7f7f", "labelOffset": 13, "labelLimit": 0
          }
        }
      }
    },
    {
      "mark": {"type": "line", "strokeWidth": 6.5, "point": {"filled": true, "fill": "#FD7F28", "size": 480, "strokeWidth": 0}},
      "encoding": {
        "x": {"field": "date", "type": "temporal", "timeUnit": "yearmonthdate", "bandPosition": 0.5},
        "y": {
          "field": "temp", "type": "quantitative",
          "scale": {"domain": [0, 35]},
          "axis": {
            "orient": "right",
            "title": "Air temperature(°C)",
            "values": [0, 5, 10, 15, 20, 25, 30, 35],
            "tickSize": 18, "labelPadding": 41,
            "titleAngle": -90, "titleX": 206, "titleY": 362, "titleBaseline": "middle", "titleAlign": "center"
          }
        },
        "stroke": {
          "datum": "Air temperature(°C)",
          "scale": {"range": ["#FD7F28"]},
          "legend": {
            "orient": "none", "legendX": 1630, "legendY": -86, "title": null, "padding": 0,
            "symbolType": "M-1,0H1M-0.11,0A0.11,0.11 0 1,1 0.11,0A0.11,0.11 0 1,1 -0.11,0Z",
            "symbolSize": 28224, "symbolStrokeWidth": 6, "symbolFillColor": "#FD7F28",
            "labelFont": "Liberation Serif", "labelFontSize": 60, "labelColor": "#7f7f7f", "labelOffset": 15, "labelLimit": 0
          }
        }
      }
    }
  ],
  "resolve": {"scale": {"y": "independent"}}
}
